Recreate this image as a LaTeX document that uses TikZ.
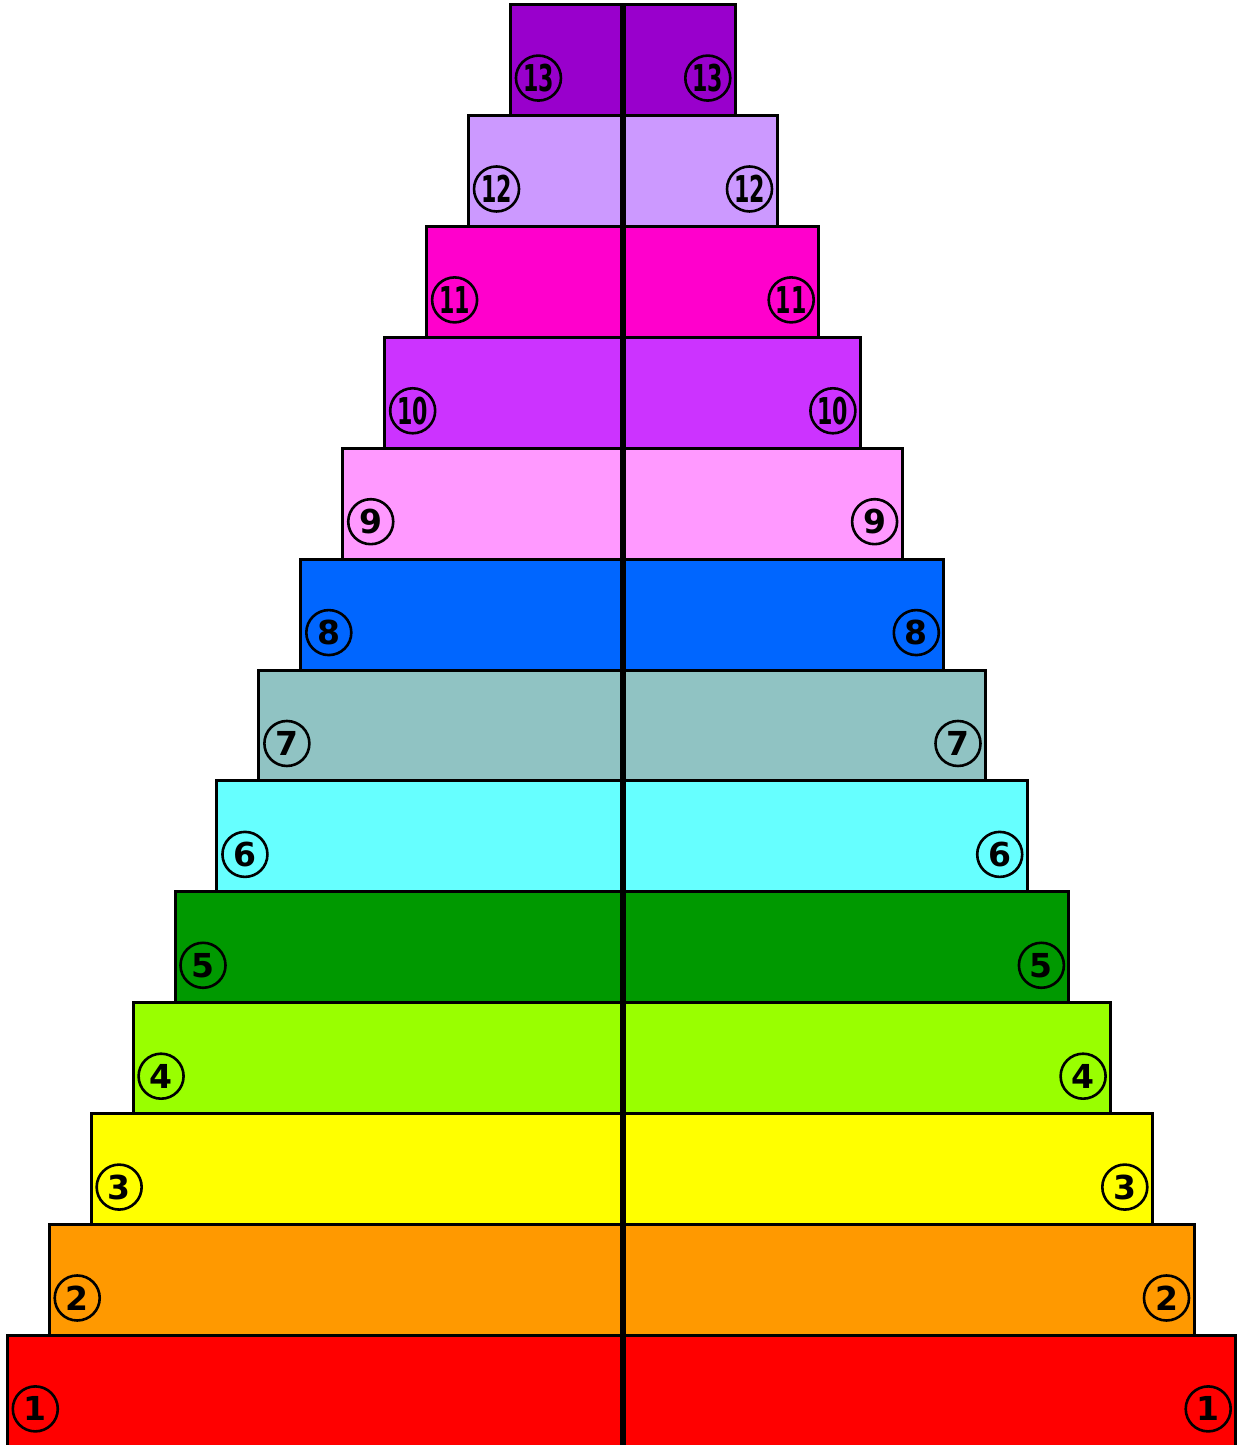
\documentclass[tikz,border=0pt]{standalone}
\usepackage{fontspec}
\setmainfont{DejaVu Sans}
\usepackage{tikz}
\usetikzlibrary{positioning}
\definecolor{tierA}{HTML}{FF0000}
\definecolor{tierB}{HTML}{FF9900}
\definecolor{tierC}{HTML}{FFFF00}
\definecolor{tierD}{HTML}{99FF00}
\definecolor{tierE}{HTML}{009900}
\definecolor{tierF}{HTML}{66FFFF}
\definecolor{tierG}{HTML}{90C3C3}
\definecolor{tierH}{HTML}{0066FF}
\definecolor{tierI}{HTML}{FF99FF}
\definecolor{tierJ}{HTML}{CC33FF}
\definecolor{tierK}{HTML}{FF00CC}
\definecolor{tierL}{HTML}{CC99FF}
\definecolor{tierM}{HTML}{9900CC}
\newcommand\tiernum[1]{\ifnum#1>9 \scalebox{0.67}[1.12]{#1}\else #1\fi}

\begin{document}
\begin{tikzpicture}[x=0.5pt,y=0.5pt,
    tier/.style={draw=black,line width=1.5pt},
    num/.style={circle,draw=black,line width=1.3pt,minimum size=22.5pt,
                inner sep=0pt,font=\bfseries\fontsize{16.5}{16.5}\selectfont}]
  \useasboundingbox (0,0) rectangle (1241,1445);
  \foreach \k/\col in {1/tierA,2/tierB,3/tierC,4/tierD,5/tierE,6/tierF,7/tierG,
                       8/tierH,9/tierI,10/tierJ,11/tierK,12/tierL,13/tierM} {
    \pgfmathsetmacro{\xl}{7.3+(\k-1)*41.93}
    \pgfmathsetmacro{\xr}{1235.7-(\k-1)*41.7}
    \pgfmathsetmacro{\yb}{-1.4+(\k-1)*110.9}
    \pgfmathsetmacro{\yt}{\yb+110.9}
    \draw[tier,fill=\col] (\xl,\yb) rectangle (622.8,\yt);
    \draw[tier,fill=\col] (622.8,\yb) rectangle (\xr,\yt);
    \node[num] (l\k) at (\xl+28,\yb+37.5) {\tiernum{\k}};
    \node[num] (r\k) at (\xr-27.5,\yb+37.5) {\tiernum{\k}};
  }
  % centre axis
  \draw[line width=2.85pt] (622.8,-5) -- (622.8,1440.3);
\end{tikzpicture}
\end{document}
